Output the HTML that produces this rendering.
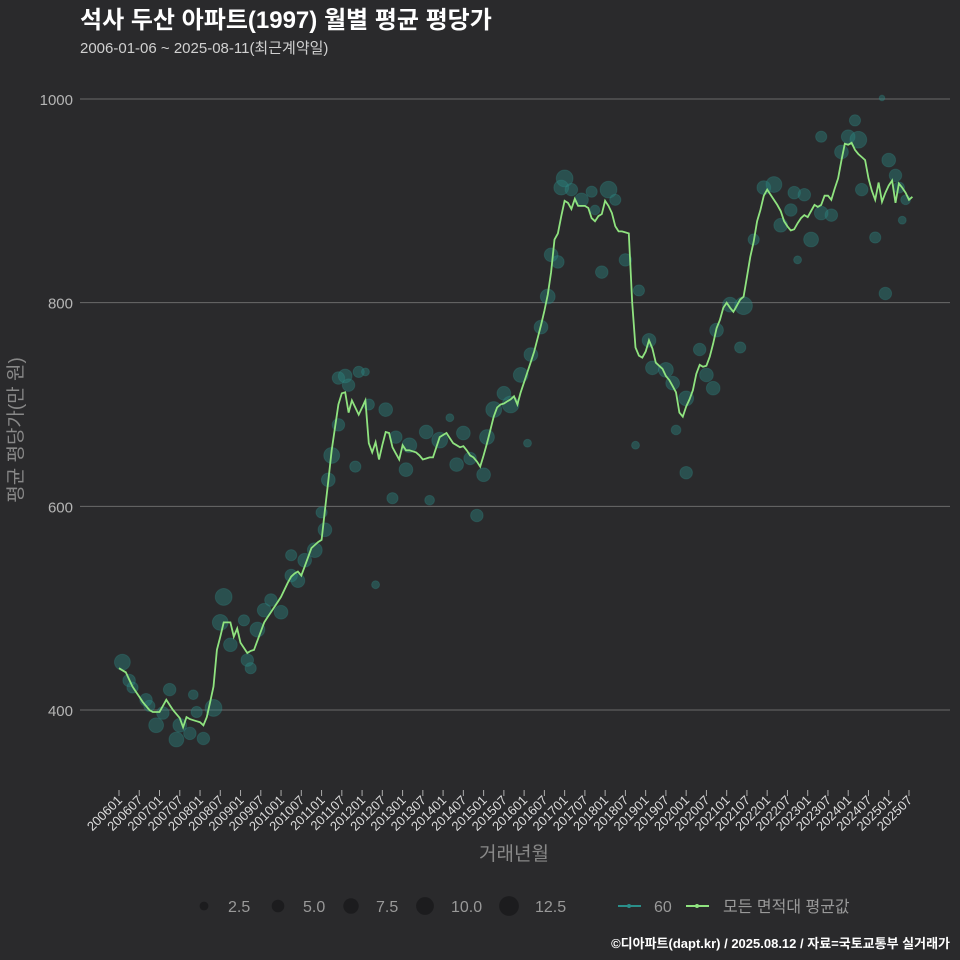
<!DOCTYPE html>
<html><head><meta charset="utf-8">
<style>
body{margin:0;background:#2a2a2c;}
svg{display:block;font-family:"Liberation Sans","Noto Sans CJK KR",sans-serif;}
</style></head>
<body>
<svg id="chart" width="960" height="960" viewBox="0 0 960 960">
<rect width="960" height="960" fill="#2a2a2c"/>
<text x="80" y="28" fill="#ffffff" font-size="24" font-weight="bold">석사 두산 아파트(1997) 월별 평균 평당가</text>
<text x="80" y="53" fill="#d0d0d0" font-size="15">2006-01-06 ~ 2025-08-11(최근계약일)</text>
<g id="grid"></g>
<g id="yticks"></g>
<text transform="translate(22,430) rotate(-90)" text-anchor="middle" fill="#888888" font-size="19">평균 평당가(만 원)</text>
<g id="bubbles"></g>
<path id="avgline" fill="none" stroke="#8fe37f" stroke-width="1.8"/>
<g id="xticks"></g>
<text x="514" y="860" text-anchor="middle" fill="#888888" font-size="19">거래년월</text>
<g>
<circle cx="204" cy="906" r="4.4" fill="#1c1c1e"/>
<text x="228" y="912" fill="#999" font-size="16">2.5</text>
<circle cx="278" cy="906" r="6.3" fill="#1c1c1e"/>
<text x="303" y="912" fill="#999" font-size="16">5.0</text>
<circle cx="351" cy="906" r="7.7" fill="#1c1c1e"/>
<text x="376" y="912" fill="#999" font-size="16">7.5</text>
<circle cx="425" cy="906" r="8.9" fill="#1c1c1e"/>
<text x="451" y="912" fill="#999" font-size="16">10.0</text>
<circle cx="509" cy="906" r="9.9" fill="#1c1c1e"/>
<text x="535" y="912" fill="#999" font-size="16">12.5</text>
</g>
<g>
<line x1="618" y1="906" x2="641" y2="906" stroke="#2a8f8a" stroke-width="2"/>
<circle cx="629" cy="906" r="2" fill="#2a8f8a"/>
<text x="654" y="912" fill="#999" font-size="16">60</text>
<line x1="686" y1="906" x2="709" y2="906" stroke="#8fe37f" stroke-width="2"/>
<circle cx="697" cy="906" r="2" fill="#8fe37f"/>
<text x="723" y="912" fill="#999" font-size="16">모든 면적대 평균값</text>
</g>
<text x="950" y="948" text-anchor="end" fill="#ffffff" font-size="13" font-weight="bold">©디아파트(dapt.kr) / 2025.08.12 / 자료=국토교통부 실거래가</text>
</svg>
<script>
const yTicks = [400, 600, 800, 1000];
const avgValues = [441,439,437,430,423,418,413,408,404,400,398,398,
398,404,410,405,400,396,392,383,393,391,390,389,
388,385,393,408,423,459,472,486,486,486,472,480,
466,461,456,458,459,468,477,486,491,496,501,506,
511,518,525,531,534,536,532,541,550,559,562,565,
567,596,625,655,678,700,711,712,692,704,697,690,
697,704,662,653,663,646,660,673,672,658,652,646,
660,655,655,654,653,650,646,647,648,648,658,668,
670,672,667,662,660,658,659,655,650,648,644,639,
650,662,675,688,697,700,701,703,705,708,700,712,
722,732,742,752,765,778,792,808,830,862,868,885,
900,898,892,902,895,895,895,893,883,880,885,887,
900,895,888,875,870,870,869,868,800,756,748,746,
752,763,755,741,738,735,728,724,718,712,692,688,
698,705,714,730,739,737,738,747,760,775,783,795,
800,795,791,797,803,806,825,845,860,880,891,905,
911,906,901,896,890,880,875,871,872,878,883,886,
884,890,896,894,896,905,905,901,912,922,940,956,
955,957,950,946,943,940,922,910,901,918,899,908,
915,920,898,917,913,908,901,904];
const bubbleMonths = [1,3,4,8,9,11,13,15,17,18,21,22,23,25,28,30,31,33,37,38,39,41,43,45,48,51,51,53,55,58,60,61,62,63,65,65,67,68,71,70,73,76,74,79,81,82,85,86,91,92,95,98,100,102,104,106,108,109,111,114,116,119,121,122,125,127,128,130,131,132,134,137,140,141,143,145,147,150,154,153,157,158,162,164,165,168,168,172,174,176,177,181,185,184,188,191,194,196,199,200,201,203,205,208,208,211,214,216,219,218,220,224,228,227,230,231,232,226,233];
const bubbleValues = [447,429,422,410,404,385,397,420,371,385,377,415,398,372,402,486,511,464,488,449,441,479,498,508,496,552,532,527,547,557,594,577,626,650,680,726,728,719,732,639,732,523,700,695,608,668,636,660,673,606,665,687,641,672,647,591,631,668,695,711,700,729,662,749,776,806,847,840,913,922,911,901,909,891,830,911,901,842,812,660,763,736,734,721,675,633,706,754,729,716,773,798,797,756,862,913,916,876,891,908,842,906,862,888,963,886,948,963,960,979,911,864,940,809,925,913,881,1001,901];
const bubbleCounts = [8,5,4,5,4,7,5,5,7,6,5,3,4,5,9,8,9,6,4,5,4,7,6,5,6,4,5,6,6,7,4,6,6,8,5,5,6,5,4,4,2,2,4,6,4,5,6,7,6,3,8,2,6,6,5,5,6,7,8,6,9,7,2,6,6,7,6,5,7,9,5,6,4,3,5,9,4,5,4,2,6,6,7,6,3,5,7,5,6,6,6,7,10,4,4,6,8,6,5,5,2,5,7,6,4,5,6,6,9,4,5,4,6,5,5,4,2,1,3];
const xTickLabels = [];
for (let yr = 2006; yr <= 2025; yr++) { xTickLabels.push(yr + "01"); xTickLabels.push(yr + "07"); }

const NS = "http://www.w3.org/2000/svg";
const xOf = m => 119 + m * 3.376;
const yOf = v => 99 + (1000 - v) * 1.0183;
function mk(tag, attrs, parent) {
  const el = document.createElementNS(NS, tag);
  for (const k in attrs) el.setAttribute(k, attrs[k]);
  parent.appendChild(el);
  return el;
}
const grid = document.getElementById("grid");
const yt = document.getElementById("yticks");
yTicks.forEach(v => {
  const l = mk("line", {x1: 80, x2: 950, y1: yOf(v), y2: yOf(v), stroke: "#6a6a6a", "stroke-width": 1}, grid);
  
  
  const t = mk("text", {x: 73, y: yOf(v) + 6, "text-anchor": "end", fill: "#b5b5b5", "font-size": 15}, yt);
  t.textContent = v;
  
  
});
const bg = document.getElementById("bubbles");
bubbleMonths.forEach((m, i) => {
  const c = mk("circle", {cx: xOf(m), cy: yOf(bubbleValues[i]), r: 2.8 * Math.sqrt(bubbleCounts[i]), fill: "#2a8580", "fill-opacity": 0.42, stroke: "#33958e", "stroke-opacity": 0.25}, bg);
  
  
});
let d = "";
avgValues.forEach((v, i) => { d += (i ? "L" : "M") + xOf(i).toFixed(1) + "," + yOf(v).toFixed(1); });
document.getElementById("avgline").setAttribute("d", d);
const xt = document.getElementById("xticks");
xTickLabels.forEach((lab, i) => {
  const x = xOf(i * 6);
  const tk = mk("line", {x1: x, x2: x, y1: 790, y2: 796, stroke: "#aaaaaa", "stroke-width": 1}, xt);
  
  
  const t = mk("text", {transform: "translate(" + (x + 4) + ",801) rotate(-45)", "text-anchor": "end", fill: "#dddddd", "font-size": 13}, xt);
  t.textContent = lab;
  
  
});
</script>
</body></html>
